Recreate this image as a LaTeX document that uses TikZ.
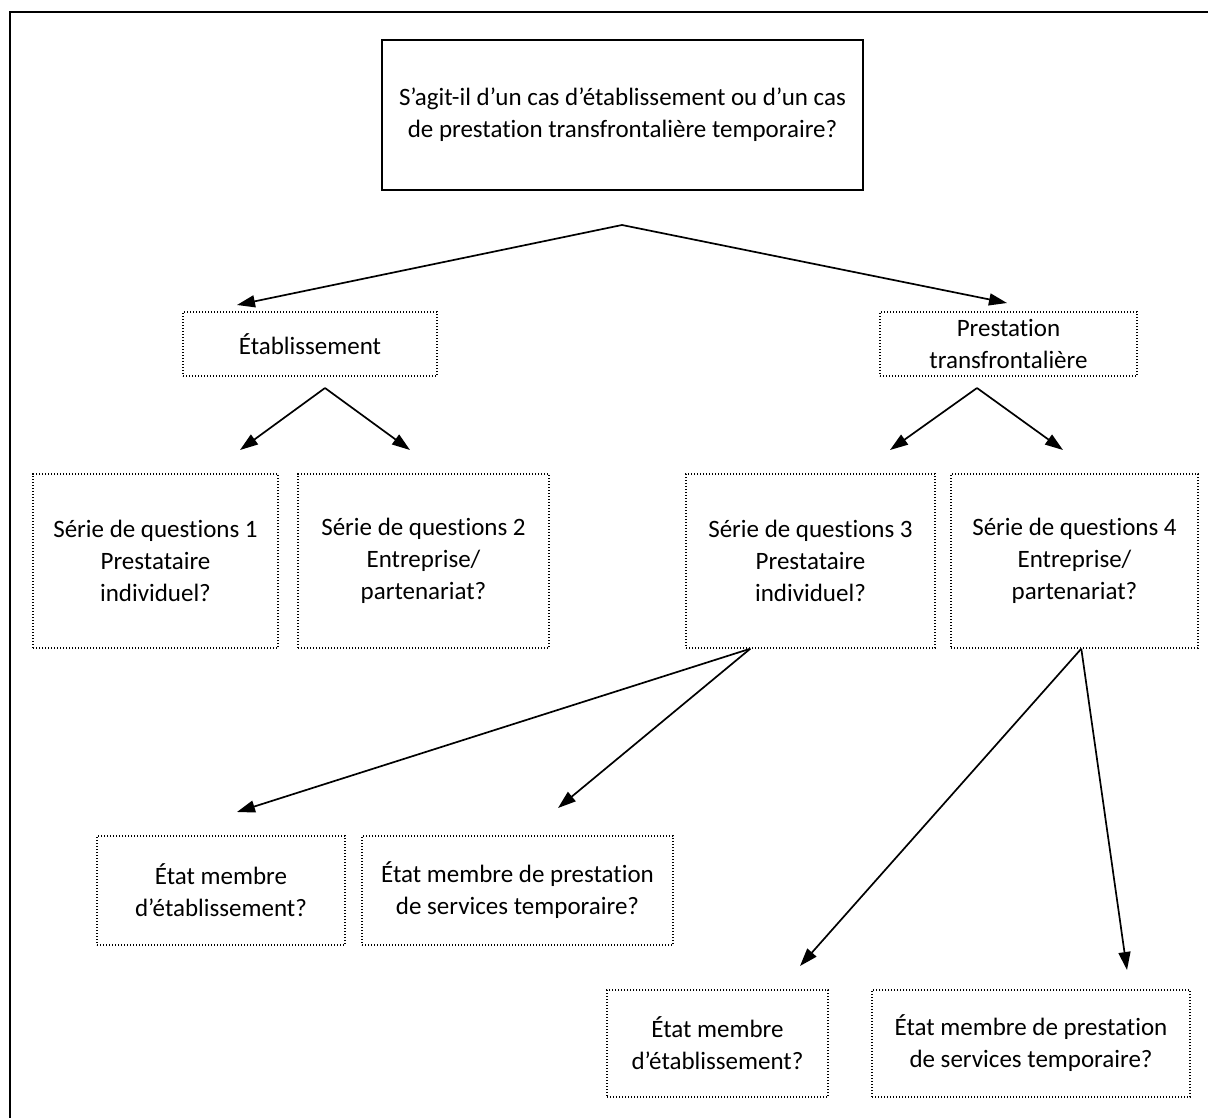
\documentclass[tikz,border=0pt]{standalone}
\usepackage{fontspec}
\setmainfont{Carlito}[Ligatures=CommonOff]
\usetikzlibrary{arrows.meta,positioning}
\tikzset{
  qbox/.style={draw,line width=1.6pt,align=center,inner sep=0pt},
  dbox/.style={draw,line width=1.4pt,dash pattern=on 1.4pt off 1.6pt,align=center,inner sep=0pt},
  arr/.style={-{Triangle[length=18pt,width=12pt]},line width=1.7pt},
}

\begin{document}
\begin{tikzpicture}[x=1pt,y=-1pt,font=\fontsize{25}{32}\selectfont]
    \useasboundingbox (0,0) rectangle (1208,1117);
    \draw[line width=2.6pt] (10,1130) -- (10,12) -- (1220,12);
    % question and first choice
    \node[qbox,minimum width=481pt,minimum height=150pt] (cas) at (622.5,115) {S'agit-il d'un cas d'établissement ou d'un cas\\de prestation transfrontalière temporaire?};
    \node[dbox,minimum width=254pt,minimum height=64pt] (etab) at (310,344) {Établissement};
    \node[dbox,minimum width=257pt,minimum height=64pt] (prest) at (1008.5,344) {Prestation\\transfrontalière};
    % series of questions
    \node[dbox,minimum width=245pt,minimum height=174pt] (ser1) at (155.5,561) {Série de questions 1\\Prestataire\\individuel?};
    \node[dbox,minimum width=251pt,minimum height=174pt] (ser2) at (423.5,561) {Série de questions 2\\Entreprise/\\partenariat?};
    \node[dbox,minimum width=249pt,minimum height=174pt] (ser3) at (810.5,561) {Série de questions 3\\Prestataire\\individuel?};
    \node[dbox,minimum width=247pt,minimum height=174pt] (ser4) at (1074.5,561) {Série de questions 4\\Entreprise/\\partenariat?};
    % member states
    \node[dbox,minimum width=248pt,minimum height=109pt] (etat1) at (221,890.5) {État membre\\d'établissement?};
    \node[dbox,minimum width=311pt,minimum height=109pt] (temp1) at (517.5,890.5) {État membre de prestation\\de services temporaire?};
    \node[dbox,minimum width=221pt,minimum height=107pt] (etat2) at (717.5,1043.5) {État membre\\d'établissement?};
    \node[dbox,minimum width=318pt,minimum height=107pt] (temp2) at (1031,1043.5) {État membre de prestation\\de services temporaire?};
    % arrow ends
    \coordinate (cas0) at (622,225);
    \coordinate (cas1) at (237,305);
    \coordinate (cas2) at (1007,303);
    \coordinate (etab0) at (325,388);
    \coordinate (etab1) at (240,450);
    \coordinate (etab2) at (410,450);
    \coordinate (prest0) at (977,388);
    \coordinate (prest1) at (890,450);
    \coordinate (prest2) at (1063,450);
    \coordinate (ser3a) at (237,812);
    \coordinate (ser3b) at (558,808);
    \coordinate (ser4a) at (800,966);
    \coordinate (ser4b) at (1127,970);
    \draw[arr] (cas0) -- (cas1); \draw[arr] (cas0) -- (cas2);
    \draw[arr] (etab0) -- (etab1); \draw[arr] (etab0) -- (etab2);
    \draw[arr] (prest0) -- (prest1); \draw[arr] (prest0) -- (prest2);
    \draw[arr] (ser3.south west) ++(65,0) coordinate (ser3o) -- (ser3a);
    \draw[arr] (ser3o) -- (ser3b);
    \draw[arr] (ser4.south west) ++(131,0) coordinate (ser4o) -- (ser4a);
    \draw[arr] (ser4o) -- (ser4b);
  \end{tikzpicture}
\end{document}
